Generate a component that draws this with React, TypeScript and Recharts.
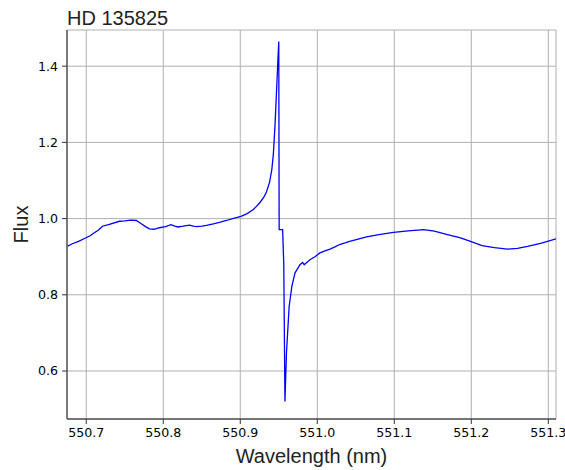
import { CartesianGrid, Label, Line, LineChart, XAxis, YAxis } from 'recharts';

const wavelength = [
  550.675, 550.682, 550.690, 550.699, 550.705, 550.710, 550.716, 550.721, 550.730, 550.743,
  550.750, 550.758, 550.765, 550.771, 550.777, 550.782, 550.788, 550.795, 550.803, 550.810,
  550.815, 550.819, 550.826, 550.834, 550.839, 550.843, 550.850, 550.856, 550.865, 550.873,
  550.882, 550.890, 550.896, 550.901, 550.909, 550.917, 550.921, 550.925, 550.930, 550.934,
  550.938, 550.941, 550.943, 550.945, 550.947, 550.9485, 550.950, 550.9505, 550.955, 550.9565,
  550.958, 550.960, 550.9635, 550.967, 550.971, 550.9775, 550.981, 550.983, 550.9905, 550.997,
  551.0035, 551.010, 551.0165, 551.023, 551.029, 551.036, 551.042, 551.053, 551.064, 551.080,
  551.099, 551.118, 551.138, 551.152, 551.169, 551.185, 551.199, 551.214, 551.230, 551.247,
  551.260, 551.273, 551.290, 551.310,
];

const flux = [
  0.927, 0.934, 0.940, 0.949, 0.955, 0.962, 0.970, 0.980, 0.985, 0.993,
  0.994, 0.996, 0.995, 0.987, 0.979, 0.973, 0.972, 0.976, 0.979, 0.984,
  0.980, 0.978, 0.980, 0.983, 0.980, 0.979, 0.980, 0.982, 0.986, 0.990,
  0.995, 1.000, 1.003, 1.006, 1.013, 1.024, 1.032, 1.041, 1.054, 1.070,
  1.095, 1.129, 1.170, 1.240, 1.330, 1.400, 1.465, 0.971, 0.971, 0.880,
  0.520, 0.648, 0.770, 0.822, 0.857, 0.879, 0.885, 0.879, 0.892, 0.900,
  0.910, 0.915, 0.920, 0.926, 0.932, 0.936, 0.940, 0.946, 0.952, 0.958,
  0.964, 0.968, 0.971, 0.967, 0.958, 0.950, 0.940, 0.929, 0.924, 0.920,
  0.922, 0.927, 0.935, 0.947,
];

const xTicks = [550.7, 550.8, 550.9, 551.0, 551.1, 551.2, 551.3];
const yTicks = [0.6, 0.8, 1.0, 1.2, 1.4];

const data = wavelength.map((w, i) => ({ w, f: flux[i] }));

const tickStyle = { fill: '#000', fontSize: 12.6, fontFamily: 'DejaVu Sans' };
const spine = { stroke: '#555', strokeWidth: 1.4 };

export default function App() {
  return (
    <div style={{ position: 'absolute', left: 0, top: 0, width: 565, height: 470, background: '#fff' }}>
      <div
        style={{
          position: 'absolute',
          left: 67,
          top: 8,
          fontFamily: '"Liberation Sans", Arial, sans-serif',
          fontSize: 20,
          lineHeight: '20px',
          color: '#222',
        }}
      >
        HD 135825
      </div>
      <LineChart width={565} height={470} data={data} margin={{ top: 30, right: 9, left: 0, bottom: 0 }}>
        <CartesianGrid stroke="#b0b0b0" strokeWidth={1} />
        <XAxis
          dataKey="w"
          type="number"
          domain={[550.675, 551.31]}
          allowDataOverflow
          ticks={xTicks}
          tickFormatter={(v: number) => v.toFixed(1)}
          height={51}
          tickSize={5}
          tickMargin={4}
          tick={tickStyle}
          axisLine={spine}
          tickLine={{ stroke: '#333' }}
        >
          <Label
            value="Wavelength (nm)"
            position="insideBottom"
            offset={7}
            style={{ fill: '#222', fontSize: 20, fontFamily: '"Liberation Sans", Arial, sans-serif' }}
          />
        </XAxis>
        <XAxis
          xAxisId="top"
          orientation="top"
          type="number"
          domain={[550.675, 551.31]}
          height={0}
          tick={false}
          tickLine={false}
          axisLine={spine}
        />
        <YAxis
          type="number"
          domain={[0.474, 1.495]}
          allowDataOverflow
          ticks={yTicks}
          tickFormatter={(v: number) => v.toFixed(1)}
          width={67}
          tickSize={5}
          tickMargin={4}
          tick={tickStyle}
          axisLine={spine}
          tickLine={{ stroke: '#333' }}
        >
          <Label
            content={() => (
              <text
                x={28}
                y={224.5}
                textAnchor="middle"
                transform="rotate(-90 28 224.5)"
                style={{ fill: '#222', fontSize: 20, fontFamily: '"Liberation Sans", Arial, sans-serif' }}
              >
                Flux
              </text>
            )}
          />
        </YAxis>
        <YAxis
          yAxisId="right"
          orientation="right"
          type="number"
          domain={[0.474, 1.495]}
          width={0}
          tick={false}
          tickLine={false}
          axisLine={spine}
        />
        <Line
          type="linear"
          dataKey="f"
          stroke="#0000ff"
          strokeWidth={1.3}
          dot={false}
          activeDot={false}
          isAnimationActive={false}
        />
      </LineChart>
    </div>
  );
}
